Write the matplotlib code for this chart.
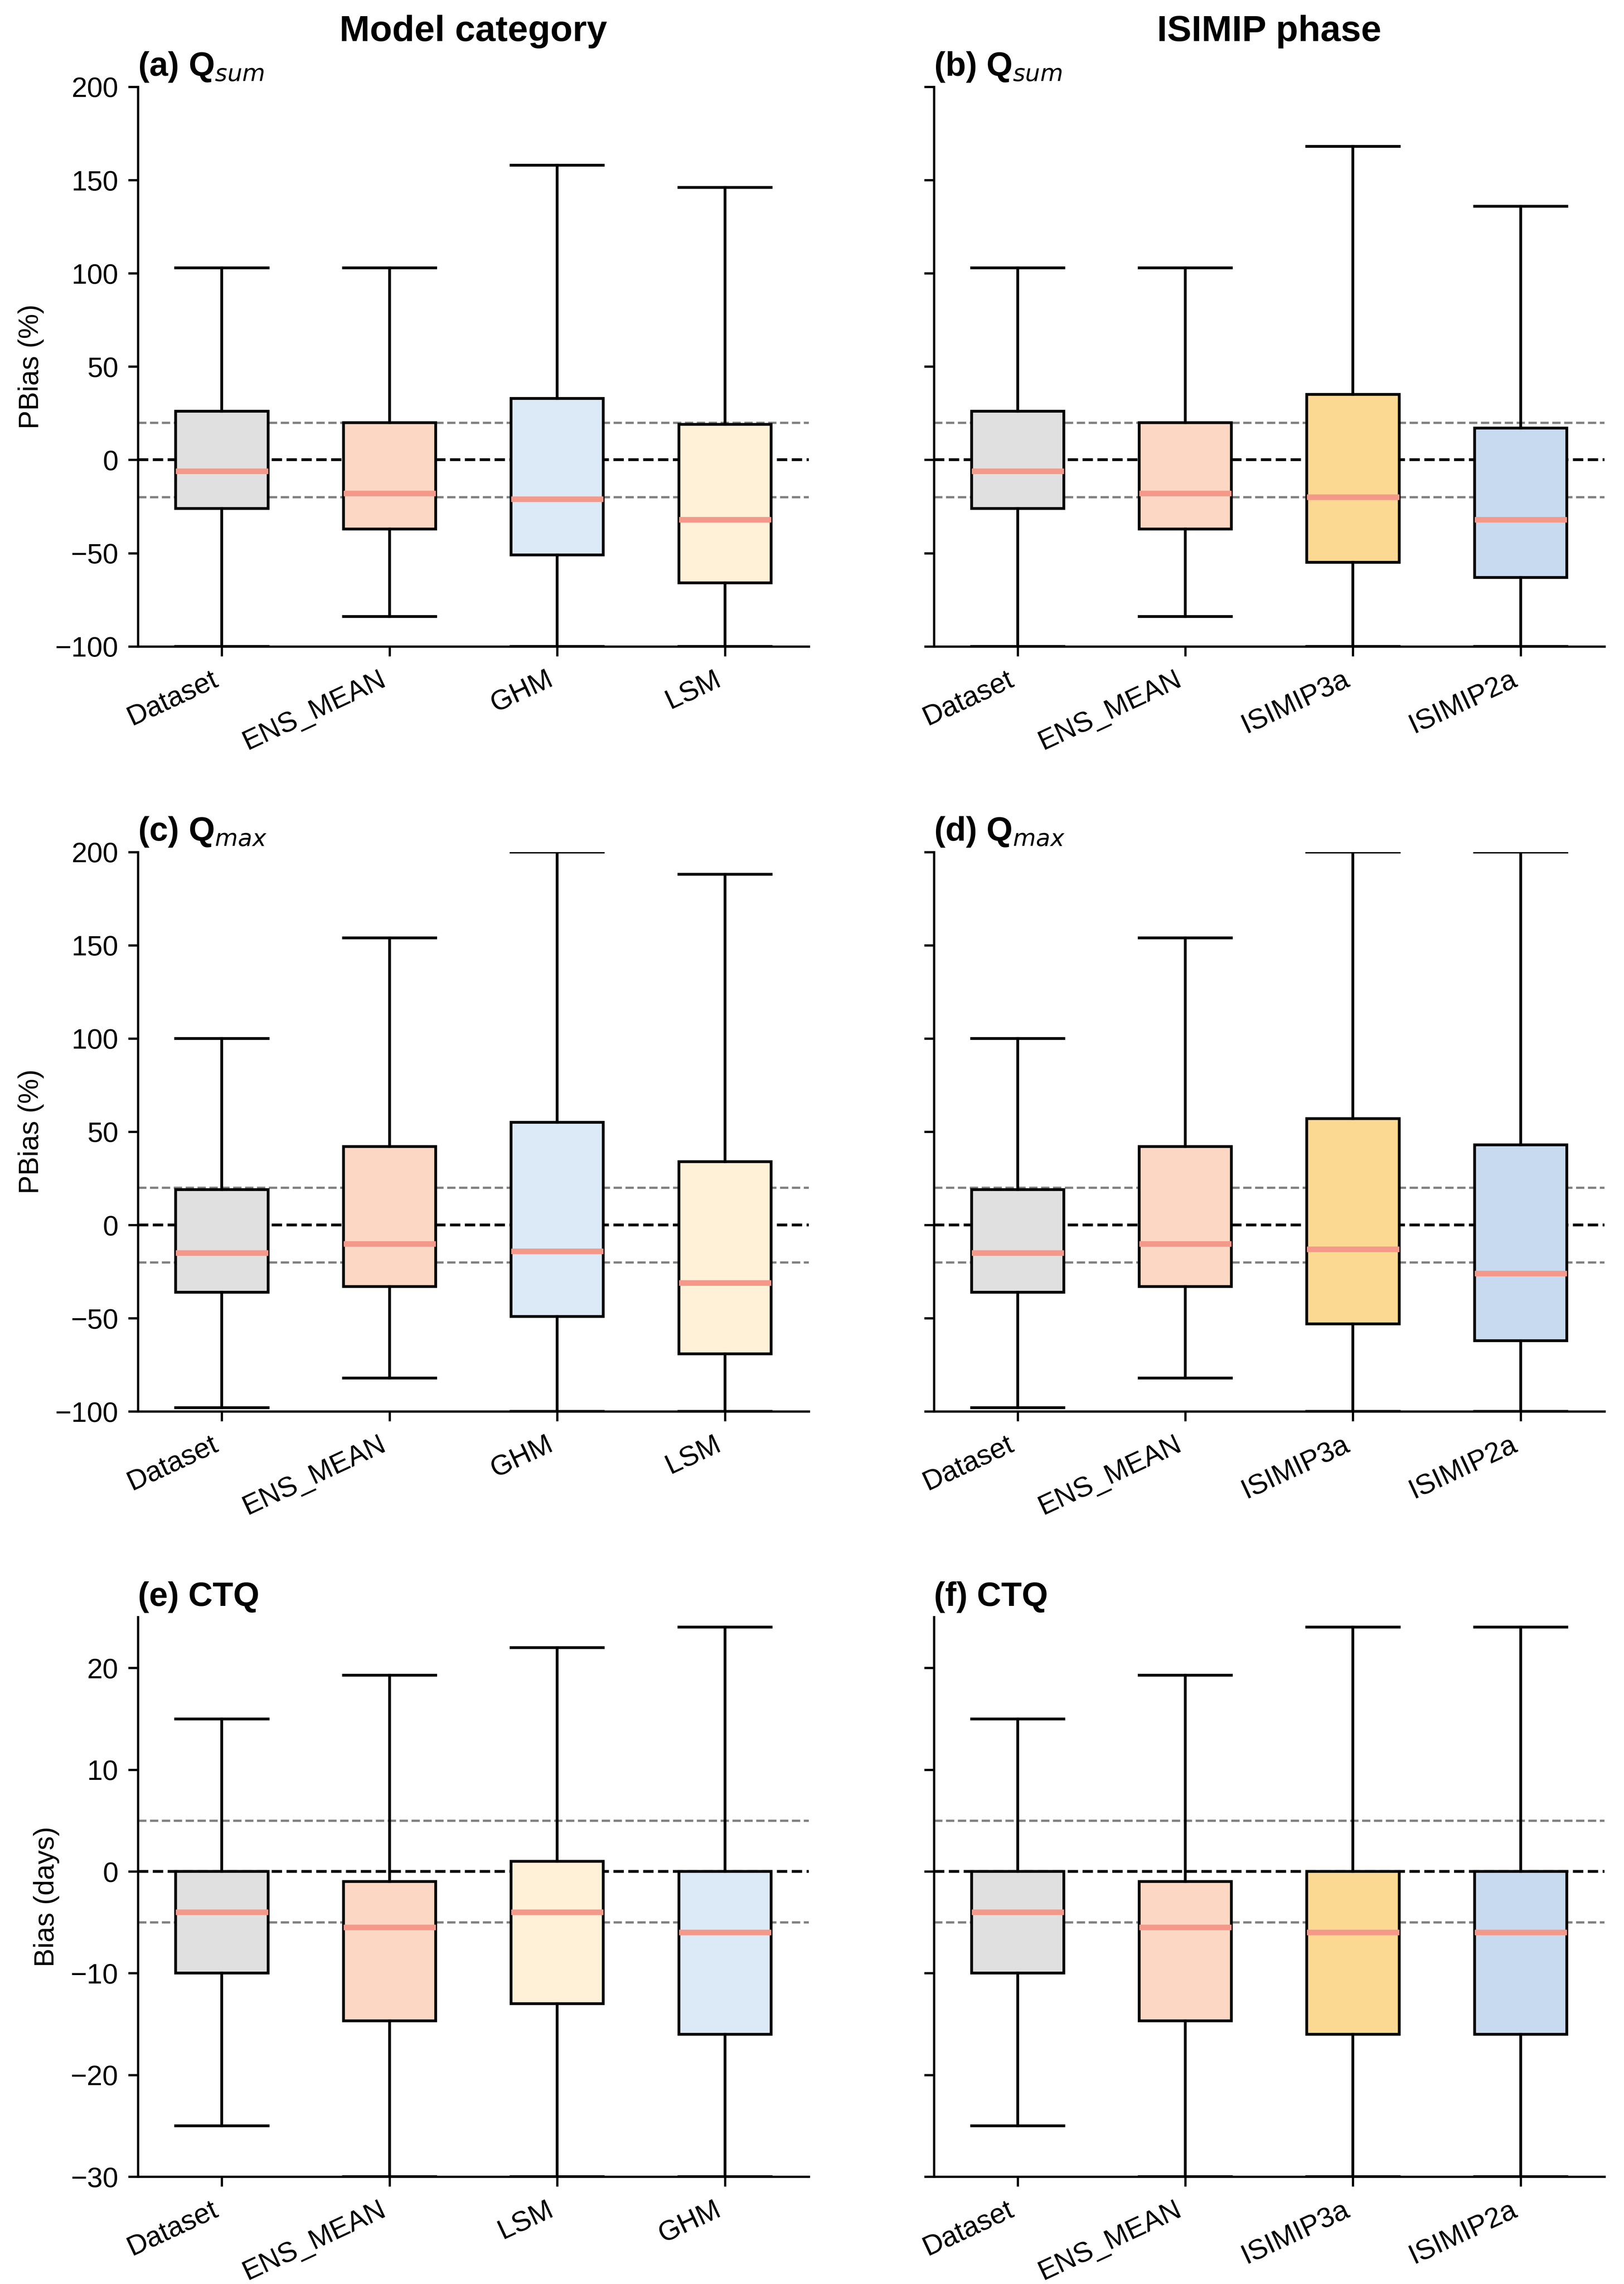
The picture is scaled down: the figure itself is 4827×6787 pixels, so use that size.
import matplotlib
matplotlib.use("Agg")
import matplotlib.pyplot as plt

plt.rcParams['font.family'] = ['Liberation Sans', 'DejaVu Sans']
plt.rcParams['font.size'] = 10

colors = {'Dataset': '#e0e0e0', 'ENS_MEAN': '#fcd8c4', 'GHM': '#dce9f6',
          'LSM': '#fff0d8', 'ISIMIP3a': '#fcd992', 'ISIMIP2a': '#c8daef'}

# (whislo, q1, med, q3, whishi)
cats_a = ['Dataset', 'ENS_MEAN', 'GHM', 'LSM']
vals_a = [(-100, -26, -6, 26, 103), (-84, -37, -18, 20, 103),
          (-100, -51, -21, 33, 158), (-100, -66, -32, 19, 146)]
cats_b = ['Dataset', 'ENS_MEAN', 'ISIMIP3a', 'ISIMIP2a']
vals_b = [(-100, -26, -6, 26, 103), (-84, -37, -18, 20, 103),
          (-100, -55, -20, 35, 168), (-100, -63, -32, 17, 136)]
cats_c = ['Dataset', 'ENS_MEAN', 'GHM', 'LSM']
vals_c = [(-98, -36, -15, 19, 100), (-82, -33, -10, 42, 154),
          (-100, -49, -14, 55, 200), (-100, -69, -31, 34, 188)]
cats_d = ['Dataset', 'ENS_MEAN', 'ISIMIP3a', 'ISIMIP2a']
vals_d = [(-98, -36, -15, 19, 100), (-82, -33, -10, 42, 154),
          (-100, -53, -13, 57, 200), (-100, -62, -26, 43, 200)]
cats_e = ['Dataset', 'ENS_MEAN', 'LSM', 'GHM']
vals_e = [(-25, -10, -4, 0, 15), (-30, -14.7, -5.5, -1, 19.3),
          (-30, -13, -4, 1, 22), (-30, -16, -6, 0, 24)]
cats_f = ['Dataset', 'ENS_MEAN', 'ISIMIP3a', 'ISIMIP2a']
vals_f = [(-25, -10, -4, 0, 15), (-30, -14.7, -5.5, -1, 19.3),
          (-30, -16, -6, 0, 24), (-30, -16, -6, 0, 24)]

panels = [
    ('(a) Q$_{sum}$', cats_a, vals_a, (-100, 200), 20, 'PBias (%)'),
    ('(b) Q$_{sum}$', cats_b, vals_b, (-100, 200), 20, None),
    ('(c) Q$_{max}$', cats_c, vals_c, (-100, 200), 20, 'PBias (%)'),
    ('(d) Q$_{max}$', cats_d, vals_d, (-100, 200), 20, None),
    ('(e) CTQ', cats_e, vals_e, (-30, 25), 5, 'Bias (days)'),
    ('(f) CTQ', cats_f, vals_f, (-30, 25), 5, None),
]

fig = plt.figure(figsize=(4827 / 600, 6787 / 600))
lefts = [0.085, 0.575]
bottoms = [0.717, 0.382, 0.047]
w, h = 0.413, 0.245

for i, (title, cats, vals, ylim, ref, ylabel) in enumerate(panels):
    ax = fig.add_axes([lefts[i % 2], bottoms[i // 2], w, h])
    stats = [dict(whislo=v[0], q1=v[1], med=v[2], q3=v[3], whishi=v[4], fliers=[])
             for v in vals]
    bp = ax.bxp(stats, positions=range(len(cats)), widths=0.55, patch_artist=True,
                showfliers=False,
                boxprops=dict(linewidth=1.0, edgecolor='black'),
                whiskerprops=dict(linewidth=1.0),
                capprops=dict(linewidth=1.0),
                medianprops=dict(color='#f4998a', linewidth=2.0),
                capwidths=0.55)
    for patch, c in zip(bp['boxes'], cats):
        patch.set_facecolor(colors[c])
    ax.axhline(0, color='black', ls='--', lw=1.0, zorder=0)
    ax.axhline(ref, color='grey', ls='--', lw=0.8, zorder=0)
    ax.axhline(-ref, color='grey', ls='--', lw=0.8, zorder=0)
    ax.set_xlim(-0.5, 3.5)
    ax.set_ylim(*ylim)
    ax.set_xticks(range(len(cats)))
    ax.set_xticklabels(cats, rotation=25, ha='right')
    ax.spines['top'].set_visible(False)
    ax.spines['right'].set_visible(False)
    if ylabel:
        ax.set_ylabel(ylabel)
    else:
        ax.set_yticklabels([])
    ax.set_title(title, loc='left', fontweight='bold', fontsize=12, pad=4)

fig.text(lefts[0] + w / 2, 0.982, 'Model category', ha='center', fontweight='bold', fontsize=13)
fig.text(lefts[1] + w / 2, 0.982, 'ISIMIP phase', ha='center', fontweight='bold', fontsize=13)

fig.savefig('out.png', dpi=600)
